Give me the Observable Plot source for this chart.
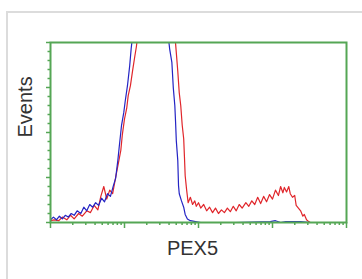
<!DOCTYPE html>
<html>
<head>
<meta charset="utf-8">
<script src="https://cdn.jsdelivr.net/npm/d3@7"></script>
<script src="https://cdn.jsdelivr.net/npm/@observablehq/plot@0.6"></script>
<style>
  html, body { margin: 0; padding: 0; background: #fff; }
  #wrap { position: relative; width: 362px; height: 279px; overflow: hidden; }
  #border { position: absolute; left: 6px; top: 11px; width: 400px; height: 400px;
            border-top: 2px solid #dcdcdc; border-left: 2px solid #dcdcdc; }
  #chart { position: absolute; left: 0; top: 0; }
</style>
</head>
<body>
<div id="wrap"><div id="border"></div><div id="chart"></div></div>
<script>
// Channel positions are log10 of fluorescence intensity; counts are events.
const isotypeLog = [0.00,0.04,0.08,0.12,0.16,0.20,0.24,0.28,0.32,0.36,0.41,0.45,0.49,0.53,0.57,0.61,0.65,0.69,0.73,0.77,0.81,0.85,0.88,0.91,0.93,0.96,0.99,1.01,1.04,1.07,1.09,1.12,1.22,1.35,1.49,1.58,1.61,1.64,1.66,1.68,1.69,1.70,1.72,1.73,1.74,1.77,1.80,1.82,1.85,1.89,1.96,2.03,2.50,2.97,3.04,3.11,3.18,3.38,3.51];
const isotypeCount = [3,6,3,7,4,8,6,10,8,13,10,17,13,20,17,22,19,27,23,32,29,41,49,69,85,108,122,135,152,174,193,215,300,360,300,215,193,178,149,130,112,91,69,41,32,24,17,9,4,2,1,0,0,1,2,0,1,1,0];

const pex5Log = [0.00,0.05,0.11,0.16,0.22,0.27,0.32,0.38,0.43,0.49,0.54,0.59,0.64,0.68,0.72,0.76,0.80,0.84,0.88,0.92,0.95,0.97,1.00,1.03,1.05,1.08,1.11,1.14,1.16,1.19,1.28,1.42,1.55,1.65,1.69,1.72,1.74,1.76,1.78,1.80,1.81,1.82,1.84,1.86,1.89,1.92,1.95,1.97,2.00,2.03,2.07,2.11,2.15,2.19,2.23,2.27,2.31,2.35,2.39,2.43,2.47,2.51,2.55,2.59,2.64,2.68,2.72,2.76,2.80,2.84,2.88,2.92,2.96,3.00,3.04,3.08,3.11,3.14,3.16,3.19,3.22,3.24,3.27,3.30,3.32,3.35,3.38,3.41,3.43,3.46,3.49,3.51];
const pex5Count = [2,3,2,6,3,8,4,10,7,13,11,19,14,29,40,26,36,32,50,67,80,97,115,127,141,152,169,185,195,215,300,360,320,230,199,168,144,130,108,93,73,52,36,22,28,20,24,18,22,16,20,13,17,11,16,10,14,11,16,12,18,13,20,16,22,18,24,20,28,21,29,23,31,26,36,30,40,33,39,34,40,32,28,30,19,16,13,7,9,3,1,0];

const yMajor = [0, 50, 100, 150, 200];
const yMinor = [10,20,30,40,60,70,80,90,110,120,130,140,160,170,180,190];
const xMajor = [1, 10, 100, 1000, 10000];
const xMinor = [1, 10, 100, 1000].flatMap(d => [2,3,4,5,6,7,8,9].map(m => m * d));

const xLabel = "PEX5";
const yLabel = "Events";

const green = "#55a655";
const toRows = (logs, counts) => logs.map((e, i) => ({x: Math.pow(10, e), y: counts[i]}));
const iso = toRows(isotypeLog, isotypeCount);
const pex = toRows(pex5Log, pex5Count);

const chart = Plot.plot({
  width: 362,
  height: 279,
  marginLeft: 50,
  marginRight: 16,
  marginTop: 42,
  marginBottom: 57,
  style: {background: "transparent", fontFamily: "Liberation Sans, Arial, sans-serif"},
  x: {type: "log", domain: [1, 10000], axis: null},
  y: {domain: [0, 200], axis: null},
  marks: [
    Plot.line(pex, {x: "x", y: "y", stroke: "#e0262b", strokeWidth: 1.2, curve: "linear", clip: true}),
    Plot.line(iso, {x: "x", y: "y", stroke: "#2424c4", strokeWidth: 1.2, curve: "linear", clip: true}),
    Plot.axisY(yMajor, {tickSize: 4, tickFormat: () => "", label: null, stroke: green, strokeWidth: 1.5, anchor: "left"}),
    Plot.axisY(yMinor, {tickSize: 2.5, tickFormat: () => "", label: null, stroke: green, strokeWidth: 1.5, anchor: "left"}),
    Plot.axisX(xMajor, {tickSize: 6, tickFormat: () => "", label: null, stroke: green, strokeWidth: 1.5, anchor: "bottom"}),
    Plot.axisX(xMinor, {tickSize: 3, tickFormat: () => "", label: null, stroke: green, strokeWidth: 1.5, anchor: "bottom"}),
    Plot.frame({stroke: green, strokeWidth: 2}),
    Plot.text([xLabel], {frameAnchor: "bottom", dy: 32, dx: -6, fontSize: 20, fill: "#333", text: d => d}),
    Plot.text([yLabel], {frameAnchor: "left", dx: -25, dy: 5, rotate: -90, fontSize: 20, fill: "#333", text: d => d})
  ]
});
document.getElementById("chart").appendChild(chart);
</script>
</body>
</html>
